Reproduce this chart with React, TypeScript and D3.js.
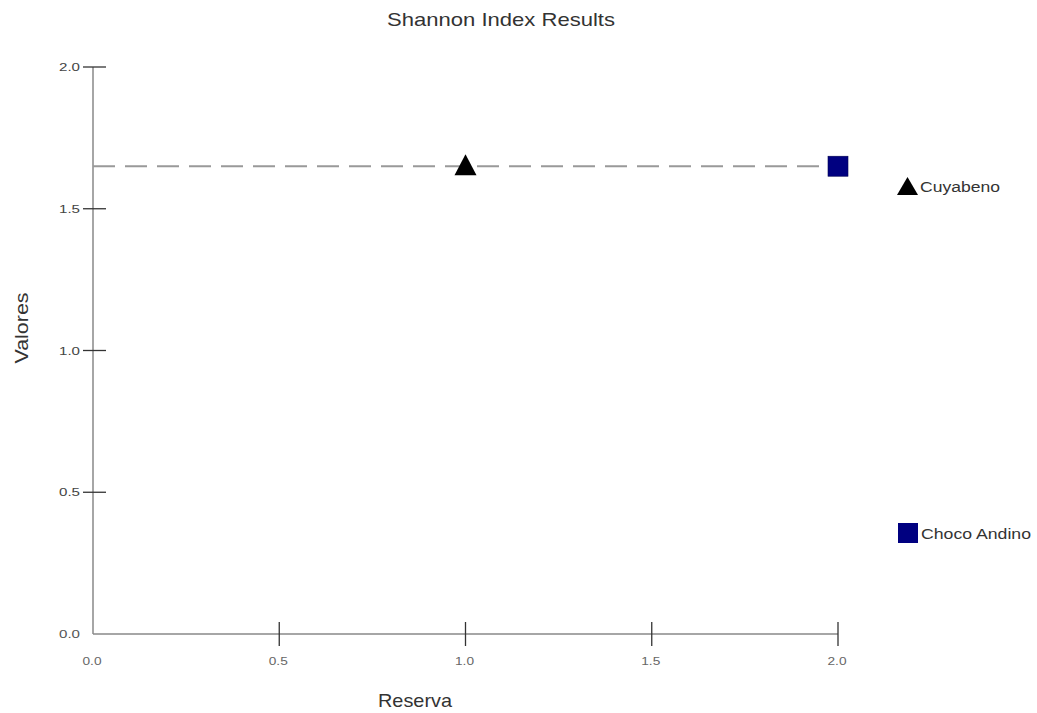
import React from "react";
import * as d3 from "d3";

const categories = ["Cuyabeno", "Choco Andino"];
const reservaValues = [1.0, 2.0];
const shannonValues = [1.65, 1.65];
const xTicks = [0.0, 0.5, 1.0, 1.5, 2.0];
const yTicks = [0.0, 0.5, 1.0, 1.5, 2.0];
const referenceLine = 1.65;

const W = 1037;
const H = 713;

export default function App() {
  const x = d3.scaleLinear().domain([0, 2]).range([93, 838]);
  const y = d3.scaleLinear().domain([0, 2]).range([634, 67]);
  const font = "'Liberation Sans', Arial, sans-serif";
  const triPath = (cx: number, base: number, w: number, h: number) => {
    const p = d3.path();
    p.moveTo(cx - w / 2, base);
    p.lineTo(cx + w / 2, base);
    p.lineTo(cx, base - h);
    p.closePath();
    return p.toString();
  };
  const px = x(reservaValues[0]);
  const py = y(shannonValues[0]);
  const sx = x(reservaValues[1]);
  const sy = y(shannonValues[1]);
  return (
    <svg width={W} height={H} style={{ position: "absolute", left: 0, top: 0, background: "#fff" }} fontFamily={font}>
      <text x={501} y={26} textAnchor="middle" fontSize={19} fill="#333" textLength={228} lengthAdjust="spacingAndGlyphs">Shannon Index Results</text>
      {/* axes */}
      <line x1={x(0)} x2={x(0)} y1={y(2)} y2={y(0)} stroke="#888" strokeWidth={1.5} />
      <line x1={x(0)} x2={x(2)} y1={y(0)} y2={y(0)} stroke="#888" strokeWidth={1.5} />
      {yTicks.map((t) => (
        <g key={"y" + t}>
          {t > 0 && <line x1={83} x2={106} y1={y(t)} y2={y(t)} stroke="#333" strokeWidth={1.3} />}
          <text x={t > 0 ? 80 : 80} y={y(t) + 4} textAnchor="end" fontSize={11} fill={t > 0 ? "#444" : "#555"} textLength={21} lengthAdjust="spacingAndGlyphs">{t.toFixed(1)}</text>
        </g>
      ))}
      {xTicks.map((t) => (
        <g key={"x" + t}>
          {t > 0 && <line x1={x(t)} x2={x(t)} y1={622} y2={646} stroke="#333" strokeWidth={1.3} />}
          <text x={x(t) - 1} y={665} textAnchor="middle" fontSize={11} fill="#666" textLength={19} lengthAdjust="spacingAndGlyphs">{t.toFixed(1)}</text>
        </g>
      ))}
      <text transform={`translate(28,328) rotate(-90)`} textAnchor="middle" fontSize={18} fill="#333" textLength={71} lengthAdjust="spacingAndGlyphs">Valores</text>
      <text x={415} y={707} textAnchor="middle" fontSize={19} fill="#333" textLength={74} lengthAdjust="spacingAndGlyphs">Reserva</text>
      {/* dashed reference line */}
      <line x1={x(0)} x2={x(2)} y1={y(referenceLine)} y2={y(referenceLine)} stroke="#999" strokeWidth={1.8} strokeDasharray="22 10" />
      {/* points */}
      <path d={triPath(px, py + 9, 22, 21)} fill="#000" />
      <rect x={sx - 10} y={sy - 10} width={20} height={20} fill="#000080" stroke="#000050" strokeWidth={0.6} />
      {/* legend */}
      <path d={triPath(907.5, 195, 21, 18)} fill="#000" />
      <text x={920} y={192} fontSize={14} fill="#333" textLength={80} lengthAdjust="spacingAndGlyphs">{categories[0]}</text>
      <rect x={898} y={523} width={20} height={20} fill="#000080" />
      <text x={921} y={539} fontSize={14} fill="#333" textLength={110} lengthAdjust="spacingAndGlyphs">{categories[1]}</text>
    </svg>
  );
}
